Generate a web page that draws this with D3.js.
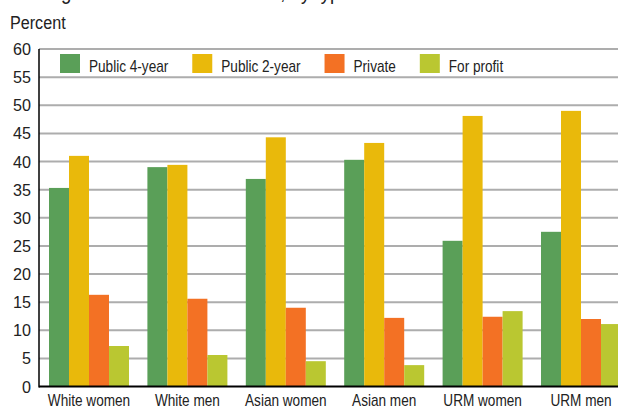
<!DOCTYPE html>
<html>
<head>
<meta charset="utf-8">
<script src="https://cdn.jsdelivr.net/npm/d3@7"></script>
<style>
  body { margin: 0; background: #fff; }
  svg text { font-family: "Liberation Sans", Arial, sans-serif; fill: #222; }
</style>
</head>
<body>
<main></main>
<script>
// values (percent)
const groups = ["White women", "White men", "Asian women", "Asian men", "URM women", "URM men"]
const series = ["Public 4-year", "Public 2-year", "Private", "For profit"]
const public4 = [35.3, 39.0, 36.9, 40.3, 25.9, 27.5]
const public2 = [41.0, 39.4, 44.3, 43.3, 48.1, 49.0]
const privat = [16.3, 15.6, 14.0, 12.2, 12.4, 12.0]
const forProfit = [7.2, 5.6, 4.5, 3.8, 13.4, 11.1]
const yTicks = [0, 5, 10, 15, 20, 25, 30, 35, 40, 45, 50, 55, 60]

const colors = ["#5a9f58", "#e9b90b", "#f37124", "#bac731"]
const values = [public4, public2, privat, forProfit]

const svgWidth = 618
const svgHeight = 409

const plotLeft = 39
const plotRight = 618
const plotTop = 49
const plotBottom = 386.5

// no narrow font installed, so squeeze Liberation Sans sideways
const narrow = 0.85

let svg = d3.select("main")
    .append("svg")
    .attr("width", svgWidth)
    .attr("height", svgHeight)

function narrowText(parent, x, y, size, anchor, str, sx = narrow) {
    return parent.append("text")
        .attr("transform", `translate(${x}, ${y}) scale(${sx}, 1)`)
        .attr("text-anchor", anchor)
        .style("font-size", size + "px")
        .text(str)
}

// title, cut off at the very top of the picture
narrowText(svg, 10, -1, 22, "start", "Undergraduate loan debt burden, by type of institution")

narrowText(svg, 10, 28.5, 19, "start", "Percent")

let yScale = d3.scaleLinear()
    .domain([0, 60])
    .range([plotBottom, plotTop])

let x0 = d3.scaleBand()
    .domain(groups)
    .range([49, 621])
    .paddingInner(18.4 / 98.4)

let x1 = d3.scaleBand()
    .domain(series)
    .range([0, x0.bandwidth()])

//gridlines
svg.append("g")
    .selectAll("line")
    .data(yTicks.filter(d => d > 0))
    .enter()
    .append("line")
    .attr("x1", plotLeft)
    .attr("x2", plotRight)
    .attr("y1", d => yScale(d))
    .attr("y2", d => yScale(d))
    .style("stroke", "#adadad")
    .style("stroke-width", 2)

//tick labels
let yLabels = svg.append("g")
yTicks.forEach(d => {
    narrowText(yLabels, 31, yScale(d) + 6, 17, "end", d, 0.95)
})

//bars
let rows = groups.map((g, i) => series.map((s, j) => ({ group: g, series: s, value: values[j][i], color: colors[j] })))

svg.append("g")
    .selectAll("g")
    .data(rows)
    .enter()
    .append("g")
    .attr("transform", d => `translate(${x0(d[0].group)}, 0)`)
    .selectAll("rect")
    .data(d => d)
    .enter()
    .append("rect")
    .attr("x", d => x1(d.series))
    .attr("y", d => yScale(d.value))
    .attr("width", x1.bandwidth())
    .attr("height", d => plotBottom - yScale(d.value))
    .attr("fill", d => d.color)

//axis lines
svg.append("line")
    .attr("x1", plotLeft).attr("x2", plotLeft)
    .attr("y1", plotTop).attr("y2", plotBottom + 1)
    .style("stroke", "#000")
    .style("stroke-width", 1.5)

svg.append("line")
    .attr("x1", plotLeft).attr("x2", plotRight)
    .attr("y1", plotBottom).attr("y2", plotBottom)
    .style("stroke", "#000")
    .style("stroke-width", 2)

//x labels
let xLabels = svg.append("g")
groups.forEach(d => {
    narrowText(xLabels, x0(d) + x0.bandwidth() / 2, 405.5, 16, "middle", d)
})

//legend
let legend = svg.append("g")
let lx = 60
series.forEach((s, j) => {
    legend.append("rect")
        .attr("x", lx)
        .attr("y", 54)
        .attr("width", 20)
        .attr("height", 19)
        .attr("fill", colors[j])
    let t = narrowText(legend, lx + 29, 72, 16, "start", s)
    lx = lx + 29 + t.node().getComputedTextLength() * narrow + 24
})
</script>
</body>
</html>
